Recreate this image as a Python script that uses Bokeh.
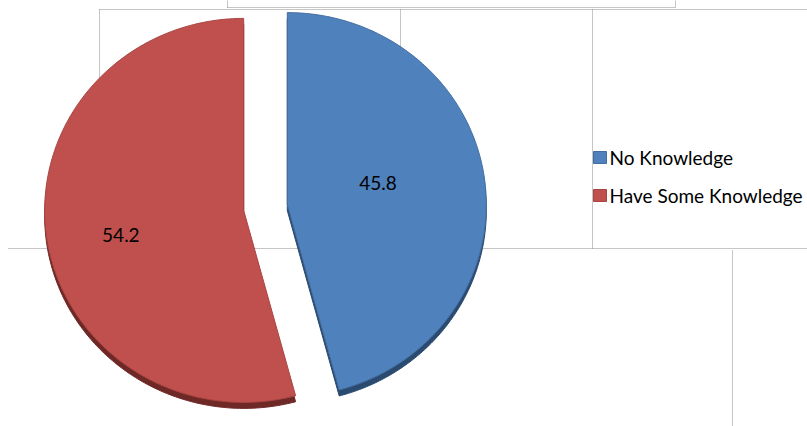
import numpy as np
from bokeh.plotting import figure
from bokeh.models import Range1d
from bokeh.core.properties import value
from bokeh.embed import file_html
from bokeh.resources import INLINE

# ---- data ----
labels = ["No Knowledge", "Have Some Knowledge"]
values = [45.8, 54.2]
value_text = ["45.8", "54.2"]

# ---- style ----
colors = ["#4F81BD", "#C0504D"]
edge_colors = ["#426D9F", "#A84543"]
dark_colors = ["#2B4A70", "#6E2826"]
label_r = [0.47, 0.63]
label_shift_deg = [-6.6, -4.0]

W, H = 807, 426
cx, cy = 265, H - 207
rx, ry = 199, 192
explode = 22
depth = 6
FONT = "Lato"

p = figure(width=W, height=H, output_backend="svg", toolbar_location=None,
           x_range=Range1d(0, W), y_range=Range1d(0, H),
           x_axis_type=None, y_axis_type=None,
           min_border=0, min_border_left=0, min_border_right=0,
           min_border_top=0, min_border_bottom=0)
p.grid.visible = False
p.outline_line_color = None
p.background_fill_color = "white"
p.border_fill_color = "white"

# dotted guide lines (document artifacts)
dot = dict(line_color="#8C8C8C", line_width=1, line_dash="1 1")
seg_x0 = [227, 227, 675, 99, 99, 400, 592, 8, 732]
seg_y0 = [7, 7, 7, 9, 9, 9, 9, 248, 250]
seg_x1 = [675, 227, 675, 807, 99, 400, 592, 807, 732]
seg_y1 = [7, 0, 0, 9, 248, 248, 248, 248, 426]
p.segment(x0=seg_x0, y0=[H - v for v in seg_y0], x1=seg_x1, y1=[H - v for v in seg_y1], **dot)

total = float(sum(values))
cum = 0.0
shadow_xs, shadow_ys, top_xs, top_ys = [], [], [], []
lab_x, lab_y = [], []
for i, v in enumerate(values):
    t0 = cum / total * 2 * np.pi
    t1 = (cum + v) / total * 2 * np.pi
    cum += v
    mid = (t0 + t1) / 2
    ox = cx + explode * np.sin(mid)
    oy = cy + explode * np.cos(mid)
    t = np.linspace(t0, t1, 240)
    xs = [ox] + list(ox + rx * np.sin(t)) + [ox]
    ys = [oy] + list(oy + ry * np.cos(t)) + [oy]
    top_xs.append(xs)
    top_ys.append(ys)
    shadow_xs.append(xs)
    shadow_ys.append([y - depth for y in ys])
    la = mid + np.radians(label_shift_deg[i])
    lab_x.append(ox + rx * label_r[i] * np.sin(la))
    lab_y.append(oy + ry * label_r[i] * np.cos(la))

p.patches(xs=shadow_xs, ys=shadow_ys, fill_color=dark_colors, line_color=dark_colors, line_width=1)
p.patches(xs=top_xs, ys=top_ys, fill_color=colors, line_color=edge_colors, line_width=1)

p.text(x=lab_x, y=lab_y, text=value_text, text_font=value(FONT), text_font_size="19px",
       text_color="black", text_align="center", text_baseline="middle")

# legend
leg_y = [H - 157, H - 195]
p.rect(x=[599.5] * 2, y=leg_y, width=13, height=12, fill_color=colors,
       line_color=edge_colors, line_width=1)
p.text(x=[609] * 2, y=leg_y, text=labels, text_font=value(FONT), text_font_size="19px",
       text_color="black", text_align="left", text_baseline="middle")

open("out.html", "w").write(file_html(p, INLINE))
